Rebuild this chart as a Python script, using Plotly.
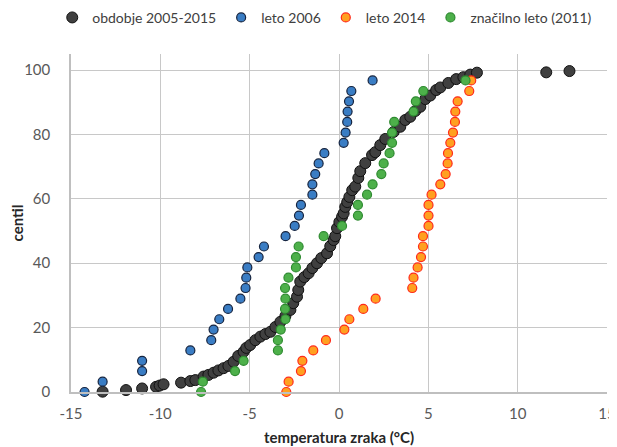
import plotly.graph_objects as go

# centile levels for the single-year series (31 values)
centil_leto = [0.0, 3.2, 6.5, 9.7, 12.9, 16.1, 19.4, 22.6, 25.8, 29.0, 32.3, 35.5,
               38.7, 41.9, 45.2, 48.4, 51.6, 54.8, 58.1, 61.3, 64.5, 67.7, 71.0,
               74.2, 77.4, 80.6, 83.9, 87.1, 90.3, 93.5, 96.8]

temp_2006 = [-14.24, -13.23, -11.02, -11.02, -8.32, -7.15, -7.02, -6.70, -6.21,
             -5.52, -5.23, -5.19, -5.13, -4.50, -4.20, -2.99, -2.48, -2.24, -2.13,
             -1.49, -1.49, -1.33, -1.14, -0.82, 0.26, 0.37, 0.46, 0.48, 0.56, 0.69, 1.88]

temp_2014 = [-2.95, -2.82, -2.13, -2.05, -1.44, -0.73, 0.30, 0.58, 1.36, 2.05,
             4.10, 4.17, 4.40, 4.59, 4.70, 4.70, 5.01, 5.01, 5.01, 5.18, 5.67,
             5.97, 6.08, 6.10, 6.23, 6.38, 6.49, 6.51, 6.64, 7.29, 7.40]

temp_2011 = [-7.72, -7.62, -5.82, -5.34, -3.42, -3.42, -3.26, -3.00, -3.02, -3.00,
             -3.02, -2.83, -2.41, -2.41, -2.26, -0.86, 0.17, 1.06, 1.06, 1.57, 1.88,
             2.37, 2.50, 2.83, 2.97, 2.97, 3.09, 4.17, 4.30, 4.72, 7.08]

# period 2005-2015
temp_obdobje = [-13.23, -11.92, -11.02, -10.24, -10.04, -9.82, -8.84, -8.32, -8.04,
                -7.58, -7.31, -7.02, -6.75, -6.46, -6.19, -5.90, -5.64, -5.34, -5.19,
                -4.97, -4.68, -4.40, -4.12, -3.84, -3.56, -3.28, -3.00, -2.72, -2.56,
                -2.35, -2.28, -2.17, -1.94, -1.70, -1.49, -1.23, -0.99, -0.67, -0.49,
                -0.30, -0.21, -0.11, 0.02, 0.17, 0.26, 0.35, 0.46, 0.58, 0.74, 0.91,
                1.08, 1.19, 1.47, 1.85, 2.03, 2.31, 2.59, 3.06, 3.43, 3.71, 3.99, 4.27,
                4.55, 4.83, 5.11, 5.44, 5.67, 6.12, 6.56, 6.96, 7.35, 7.72, 11.60, 12.90]
centil_obdobje = [0.1, 0.6, 1.1, 1.6, 2.0, 2.4, 2.9, 3.4, 3.7,
                  4.8, 5.3, 6.0, 6.7, 7.4, 8.1, 9.4, 11.2, 12.5, 13.7,
                  14.6, 16.1, 17.2, 18.0, 18.7, 20.2, 21.8, 23.6, 25.5, 27.6,
                  29.6, 31.7, 34.3, 35.7, 36.9, 38.5, 40.0, 41.6, 43.1, 45.3,
                  47.2, 48.4, 50.9, 52.8, 54.4, 55.5, 57.5, 59.0, 60.6, 62.7, 63.8,
                  66.5, 68.6, 71.1, 73.6, 74.5, 76.7, 78.6, 80.8, 82.4, 84.5, 85.5, 87.3,
                  88.6, 91.0, 92.1, 93.8, 94.6, 96.0, 97.2, 97.8, 98.6, 99.2, 99.3, 99.7]

x_ticks = [-15, -10, -5, 0, 5, 10, 15]
y_ticks = [0, 20, 40, 60, 80, 100]

FONT = "Lato"

fig = go.Figure()
fig.add_trace(go.Scatter(
    x=temp_obdobje, y=centil_obdobje, mode="markers", name="obdobje 2005-2015",
    marker=dict(size=11, color="#404040", line=dict(color="#111111", width=1)),
    cliponaxis=False))
fig.add_trace(go.Scatter(
    x=temp_2006, y=centil_leto, mode="markers", name="leto 2006",
    marker=dict(size=9, color="#3A7DC4", line=dict(color="#16243F", width=1.2)),
    cliponaxis=False))
fig.add_trace(go.Scatter(
    x=temp_2014, y=centil_leto, mode="markers", name="leto 2014",
    marker=dict(size=9, color="#FFA020", line=dict(color="#FF2A1A", width=1.2)),
    cliponaxis=False))
fig.add_trace(go.Scatter(
    x=temp_2011, y=centil_leto, mode="markers", name="značilno leto (2011)",
    marker=dict(size=9, color="#4DB04A", line=dict(color="#2E8A30", width=1.2)),
    cliponaxis=False))

grid = "#C8C8C8"
fig.update_layout(
    width=609, height=439,
    margin=dict(l=63, r=10, t=46, b=55, autoexpand=False),
    paper_bgcolor="white", plot_bgcolor="white",
    font=dict(family=FONT, size=15, color="#595959"),
    showlegend=True,
    legend=dict(orientation="h", x=-0.035, xanchor="left",
                y=1.107, yanchor="middle",
                font=dict(family=FONT, size=14, color="#404040"),
                itemwidth=30, tracegroupgap=0),
    xaxis=dict(range=[-15, 15], tickvals=x_ticks, ticktext=[str(v) for v in x_ticks],
               automargin=False,
               showgrid=True, gridcolor=grid, gridwidth=1.3,
               zeroline=False, showline=True, linecolor="#BFBFBF", linewidth=1.5,
               ticks="", ticklabelstandoff=7,
               tickfont=dict(family=FONT, size=15, color="#595959"),
               title=dict(text="<b>temperatura zraka (°C)</b>", standoff=12,
                          font=dict(family=FONT, size=15, color="#262626"))),
    yaxis=dict(range=[0, 105], tickvals=y_ticks, ticktext=[str(v) for v in y_ticks],
               automargin=False,
               showgrid=True, gridcolor=grid, gridwidth=1.3,
               zeroline=False, showline=True, linecolor="#BFBFBF", linewidth=1.5,
               ticks="", ticklabelstandoff=16,
               tickfont=dict(family=FONT, size=15, color="#595959"),
               title=dict(text="<b>centil</b>", standoff=4,
                          font=dict(family=FONT, size=15, color="#262626"))),
)

fig.write_html("out.html")
